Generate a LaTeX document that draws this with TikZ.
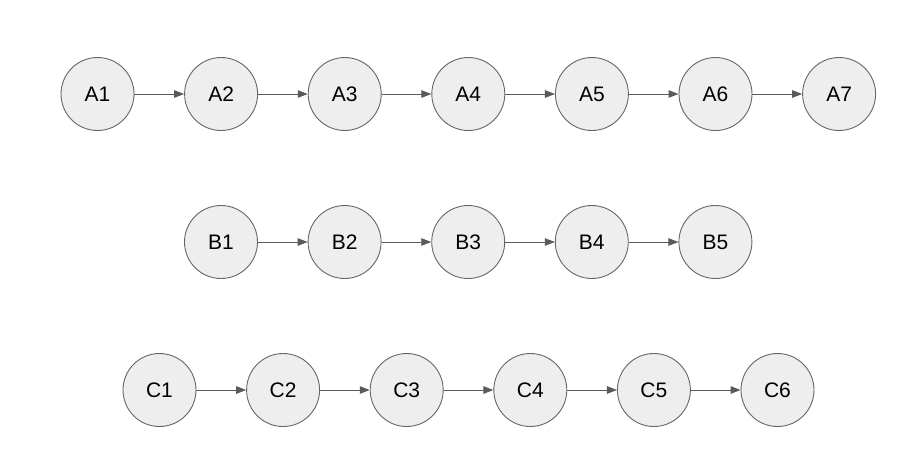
\documentclass[tikz,border=0pt]{standalone}
\usepackage{fontspec}
\setmainfont{Liberation Sans}
\usetikzlibrary{arrows.meta}
\definecolor{cFill}{RGB}{238,238,238}
\definecolor{cLine}{RGB}{102,102,102}
\definecolor{cArr}{RGB}{90,90,90}
\tikzset{
	stnode/.style={circle, draw=cLine, line width=0.9pt, fill=cFill,
		minimum size=73pt, inner sep=0pt, font=\fontsize{21}{25}\selectfont},
	starr/.style={-{Triangle[length=10pt,width=7.5pt]}, line width=0.9pt,
		draw=cArr},
}
\begin{document}
\begin{tikzpicture}[x=1pt,y=-1pt]
	\useasboundingbox (0,0) rectangle (921,467);
	% row A
	\foreach \i in {1,...,7}{
		\node[stnode] (A\i) at ({97.5+123.6*(\i-1)},94) {A\i};
	}
	% row B
	\foreach \i in {1,...,5}{
		\node[stnode] (B\i) at ({221+123.6*(\i-1)},242) {B\i};
	}
	% row C
	\foreach \i in {1,...,6}{
		\node[stnode] (C\i) at ({159.5+123.6*(\i-1)},390) {C\i};
	}
	% connectors
	\foreach \i in {1,...,6}{
		\pgfmathtruncatemacro{\j}{\i+1}
		\draw[starr] (A\i) -- (A\j);
	}
	\foreach \i in {1,...,4}{
		\pgfmathtruncatemacro{\j}{\i+1}
		\draw[starr] (B\i) -- (B\j);
	}
	\foreach \i in {1,...,5}{
		\pgfmathtruncatemacro{\j}{\i+1}
		\draw[starr] (C\i) -- (C\j);
	}
\end{tikzpicture}
\end{document}
